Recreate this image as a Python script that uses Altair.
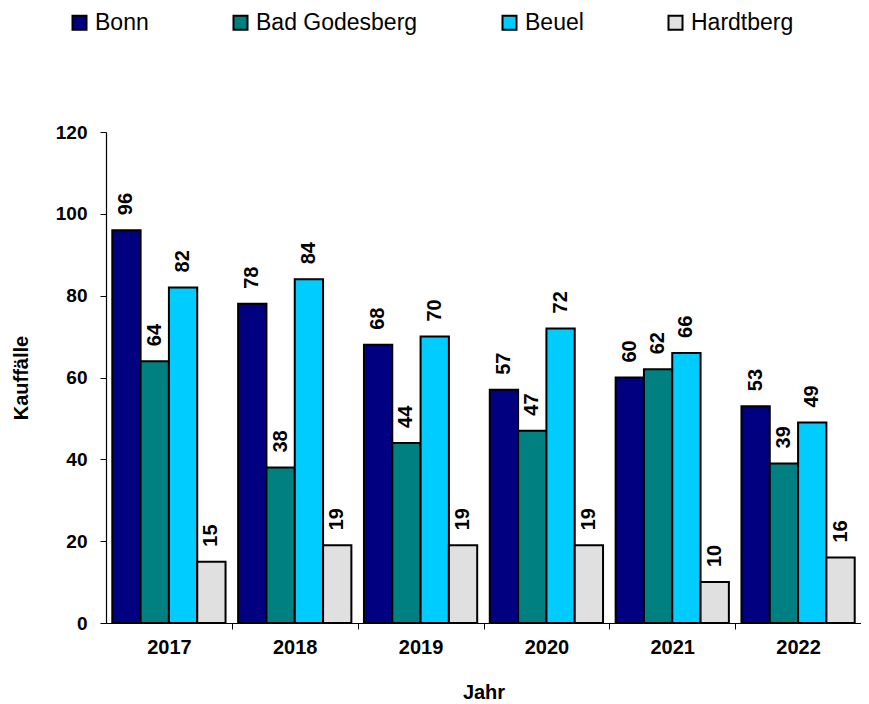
import altair as alt
import pandas as pd

years = ["2017", "2018", "2019", "2020", "2021", "2022"]
series = ["Bonn", "Bad Godesberg", "Beuel", "Hardtberg"]
bonn = [96, 78, 68, 57, 60, 53]
godesberg = [64, 38, 44, 47, 62, 39]
beuel = [82, 84, 70, 72, 66, 49]
hardtberg = [15, 19, 19, 19, 10, 16]
colors = ["#000080", "#008080", "#00CCFF", "#E0E0E0"]

rows = []
for name, vals in zip(series, [bonn, godesberg, beuel, hardtberg]):
    for y, v in zip(years, vals):
        rows.append({"Jahr": y, "Gebiet": name, "Kauffälle": v})
df = pd.DataFrame(rows)

FONT = "Liberation Sans"
W, H = 755, 491
step = W / (len(years) - 0.1 + 2 * 0.05)
half = step / 2

x = alt.X("Jahr:N", title="Jahr", sort=years,
          scale=alt.Scale(paddingInner=0.1, paddingOuter=0.05),
          axis=alt.Axis(labelAngle=0, tickOffset=half, labelOffset=-half,
                        labelFontWeight="bold", labelFontSize=20, labelPadding=8,
                        titleFontSize=20, titleFontWeight="bold", titlePadding=25,
                        tickSize=6))
xo = alt.XOffset("Gebiet:N", sort=series, scale=alt.Scale(paddingInner=0, paddingOuter=0))
y = alt.Y("Kauffälle:Q", title="Kauffälle",
          scale=alt.Scale(domain=[0, 120]),
          axis=alt.Axis(values=[0, 20, 40, 60, 80, 100, 120], grid=False,
                        labelFontWeight="bold", labelFontSize=19, labelPadding=13,
                        titleFontSize=20, titleFontWeight="bold", titlePadding=24,
                        tickSize=6))

bars = alt.Chart(df).mark_bar(stroke="black", strokeWidth=2).encode(
    x=x, xOffset=xo, y=y,
    color=alt.Color("Gebiet:N", sort=series,
                    scale=alt.Scale(domain=series, range=colors),
                    legend=alt.Legend(title=None, orient="none", direction="horizontal",
                                      legendX=-38, legendY=-121, symbolType="square",
                                      symbolSize=196, symbolStrokeColor="black",
                                      symbolStrokeWidth=2, labelFontSize=23,
                                      labelLimit=0, labelFont=FONT,
                                      columnPadding=80, labelOffset=4)),
)

labels = alt.Chart(df).mark_text(angle=270, align="left", baseline="middle", dx=15,
                                 fontSize=20, fontWeight="bold", font=FONT,
                                 color="black").encode(
    x=alt.X("Jahr:N", sort=years), xOffset=alt.XOffset("Gebiet:N", sort=series),
    y="Kauffälle:Q", text="Kauffälle:Q",
)

chart = (bars + labels).properties(
    width=W, height=H,
    autosize=alt.AutoSizeParams(type="none"),
    padding={"left": 98, "top": 124, "right": 0, "bottom": 80},
).configure_axis(
    labelFont=FONT, titleFont=FONT, domainColor="black", tickColor="black",
    labelColor="black", titleColor="black", domainWidth=1.2,
).configure_view(stroke=None)

chart.save("out.html", embed_options={"renderer": "svg", "actions": False})
